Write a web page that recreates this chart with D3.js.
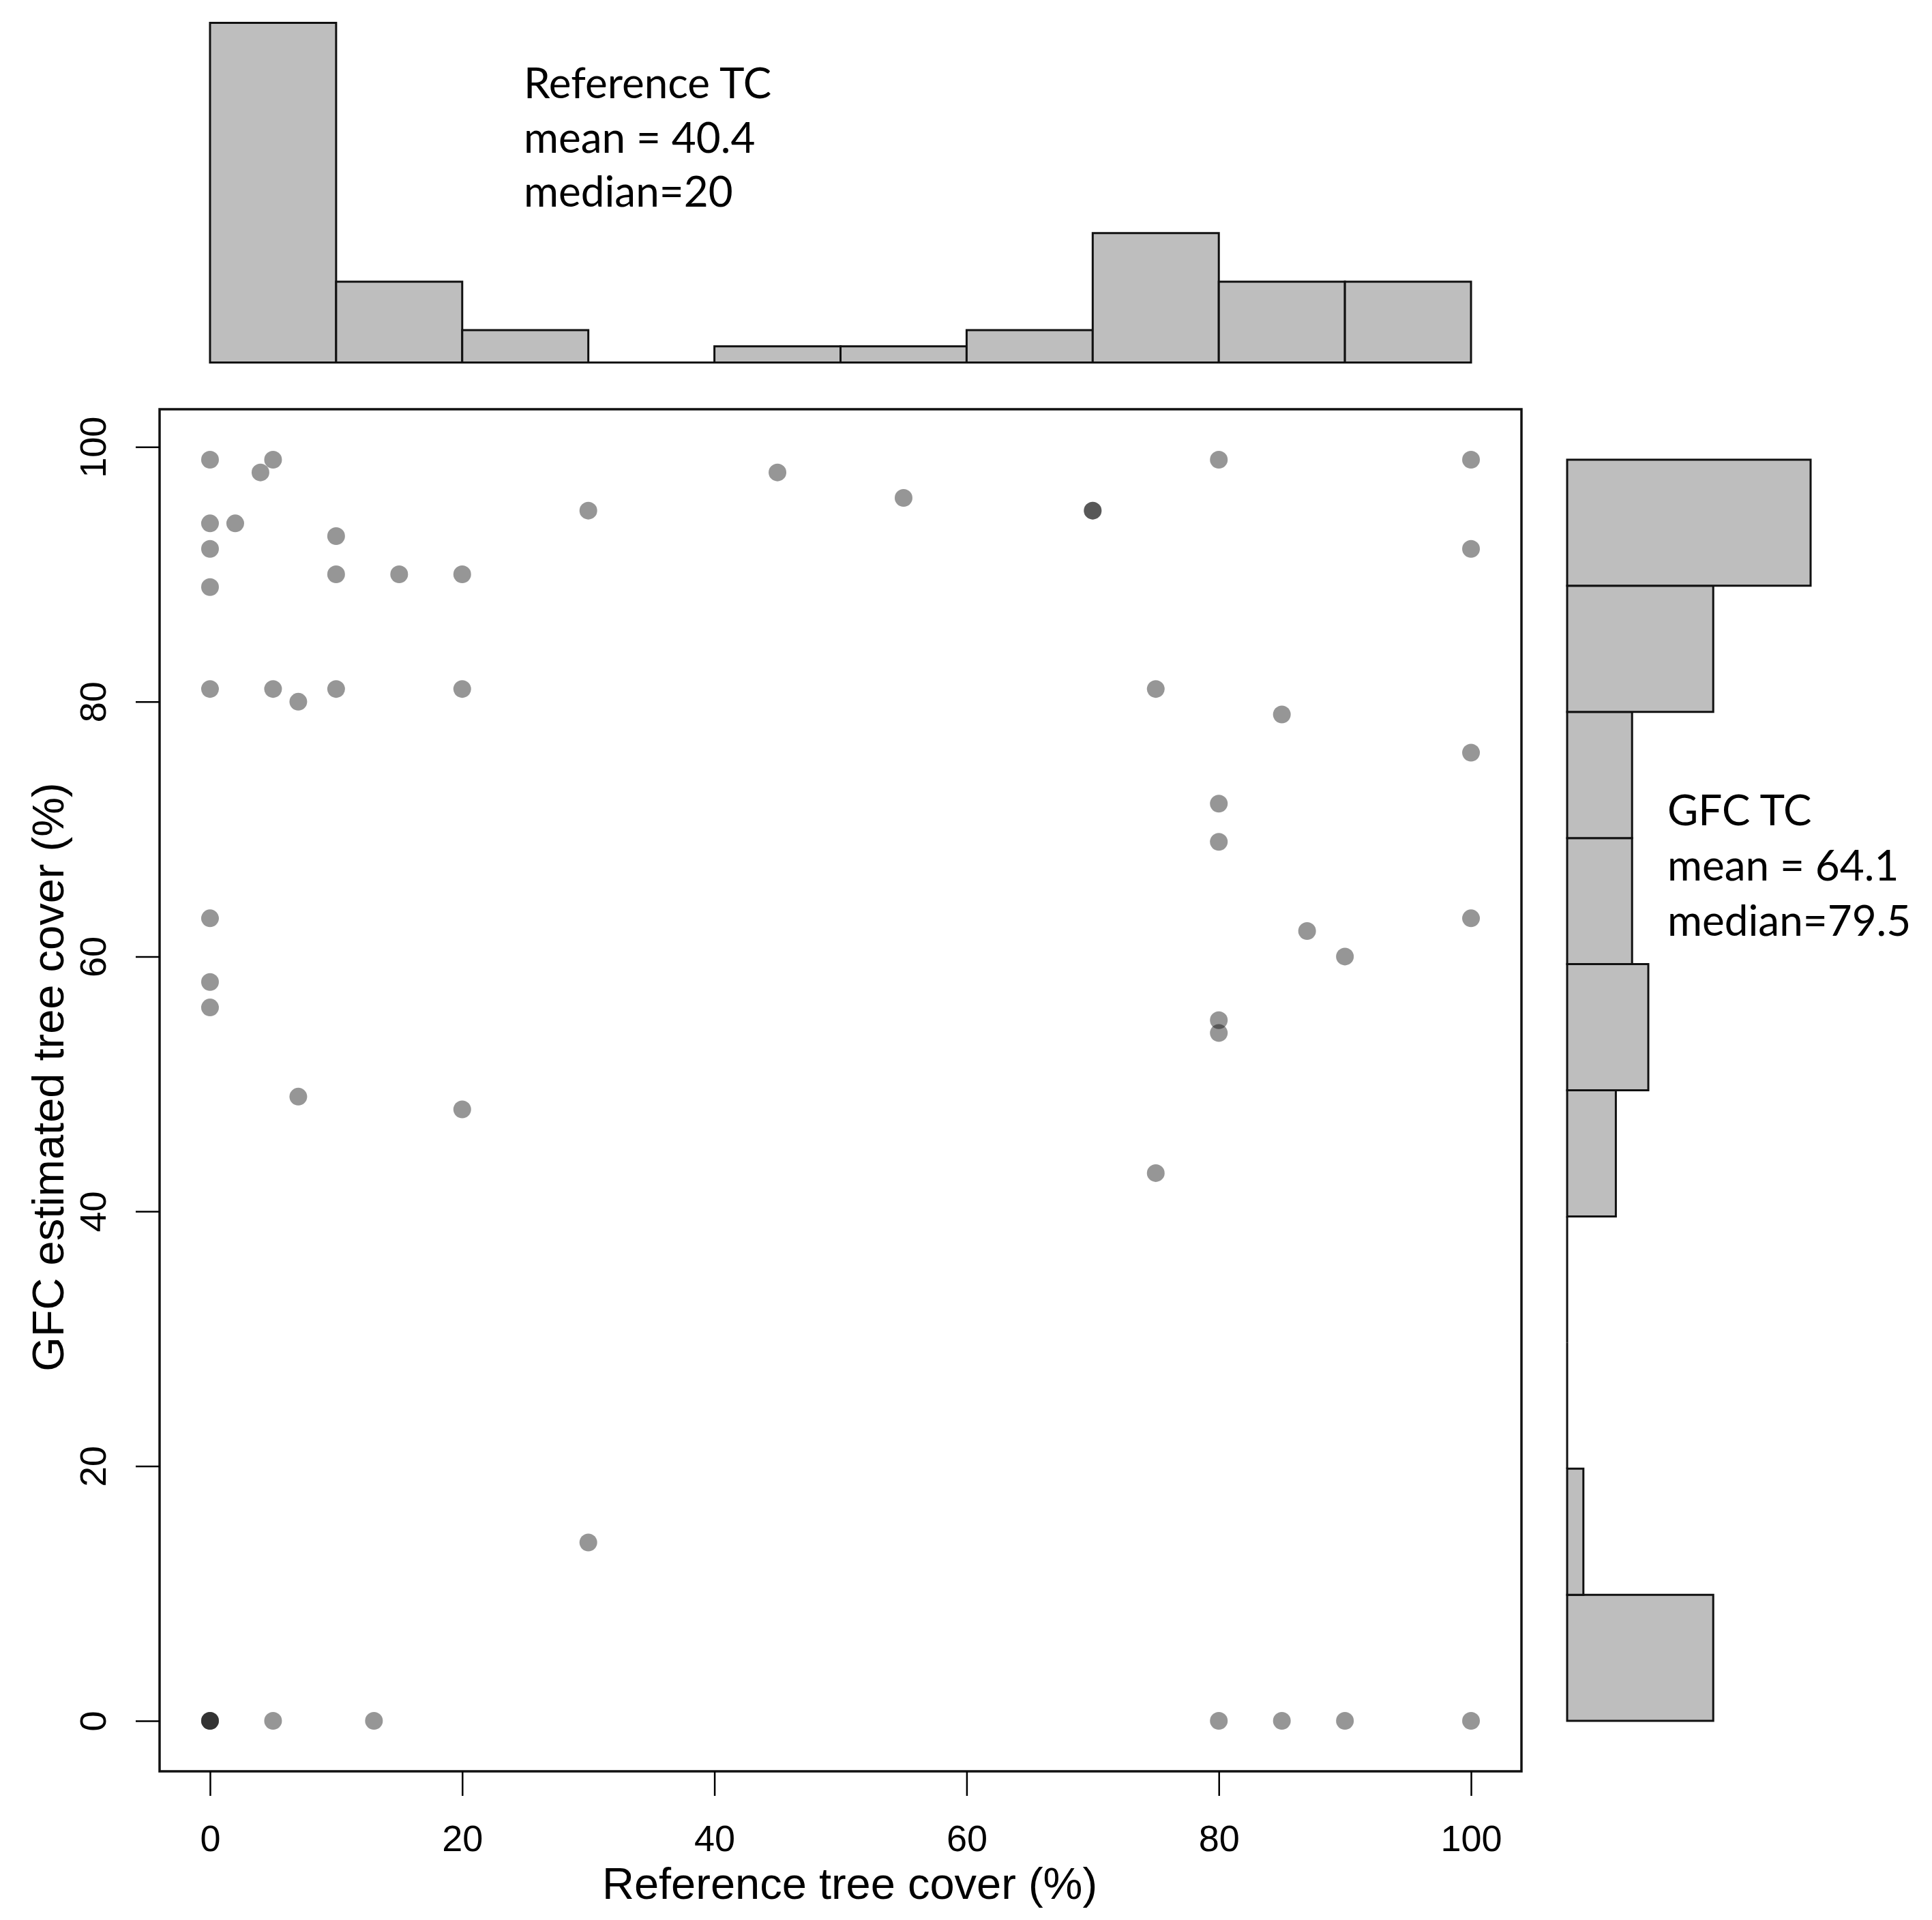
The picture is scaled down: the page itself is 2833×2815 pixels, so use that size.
<!DOCTYPE html>
<html lang="en">
<head>
<meta charset="utf-8">
<title>Reference vs GFC tree cover</title>
<script src="https://d3js.org/d3.v7.min.js"></script>
<style>
    body { margin: 0; background: #fff; }
    .axis text { font-family: "Liberation Sans", Arial, sans-serif; font-size: 54px; fill: #000; }
    .axis line { stroke: #000; stroke-width: 2.5; }
    .title { font-family: "Liberation Sans", Arial, sans-serif; font-size: 65px; }
    .note { font-family: Lato, sans-serif; font-size: 62px; }
    .bar { fill: #bebebe; stroke: #111; stroke-width: 3; }
</style>
</head>
<body>
<script>
// one pair per sample point: reference tree cover (x) and GFC estimate (y)
var refTC = [0, 0, 0, 0, 0, 0, 0, 0, 0, 0, 0,
    2, 4, 5, 5, 5, 7, 7, 10, 10, 10, 13, 15, 20, 20, 20, 30, 30, 45, 55,
    70, 70, 75, 75, 80, 80, 80, 80, 80, 80, 85, 85, 87, 90, 90,
    100, 100, 100, 100, 100];
var gfcTC = [99, 94, 92, 89, 81, 63, 58, 56, 0, 0, 0,
    94, 98, 99, 81, 0, 80, 49, 93, 90, 81, 0, 90, 90, 81, 48, 95, 14, 98, 96,
    95, 95, 81, 43, 99, 72, 69, 55, 54, 0, 79, 0, 62, 60, 0,
    99, 92, 76, 63, 0];

// histogram bins and counts
var binEdges = [0, 10, 20, 30, 40, 50, 60, 70, 80, 90, 100];
var refCounts = [21, 5, 2, 0, 1, 1, 2, 8, 5, 5];
var gfcCounts = [9, 1, 0, 0, 3, 5, 4, 4, 9, 15];

var xTicks = [0, 20, 40, 60, 80, 100];
var yTicks = [0, 20, 40, 60, 80, 100];

var refNote = ["Reference TC", "mean = 40.4", "median=20"];
var gfcNote = ["GFC TC", "mean = 64.1", "median=79.5"];

var width = 2833, height = 2815;
var plot = { left: 234, right: 2231, top: 600, bottom: 2597 };

var svg = d3.select("body").append("svg")
    .attr("width", width)
    .attr("height", height);

svg.append("rect")
    .attr("width", width)
    .attr("height", height)
    .attr("fill", "#fff");

// scatter scales
var x = d3.scaleLinear().domain([-4, 104]).range([plot.left, plot.right]);
var y = d3.scaleLinear().domain([-3.96, 102.96]).range([plot.bottom, plot.top]);

// marginal histogram scales
var topY = d3.scaleLinear().domain([0, 21]).range([531.5, 33.5]);
var sideY = d3.scaleLinear().domain([-4, 104]).range([plot.bottom, plot.top]);
var sideX = d3.scaleLinear().domain([0, 15]).range([2298, 2655]);

function box(x0, y0, x1, y1) {
    var p = d3.path();
    p.moveTo(x0, y0);
    p.lineTo(x1, y0);
    p.lineTo(x1, y1);
    p.lineTo(x0, y1);
    p.closePath();
    return p.toString();
}

// top histogram (reference TC)
svg.append("g").selectAll("path")
    .data(refCounts)
    .enter()
    .append("path")
    .attr("class", "bar")
    .attr("stroke-width", function (d) { return d === 0 ? 1.5 : 3; })
    .attr("d", function (d, i) {
        return box(x(binEdges[i]), topY(0), x(binEdges[i + 1]), topY(d));
    });

// side histogram (GFC TC)
svg.append("g").selectAll("path")
    .data(gfcCounts)
    .enter()
    .append("path")
    .attr("class", "bar")
    .attr("stroke-width", function (d) { return d === 0 ? 1.5 : 3; })
    .attr("d", function (d, i) {
        return box(sideX(0), sideY(binEdges[i]), sideX(d), sideY(binEdges[i + 1]));
    });

// scatter points, semi transparent so overlaps get darker
svg.append("g").selectAll("circle")
    .data(refTC)
    .enter()
    .append("circle")
    .attr("cx", function (d) { return x(d); })
    .attr("cy", function (d, i) { return y(gfcTC[i]); })
    .attr("r", 13)
    .attr("fill", "#000")
    .attr("fill-opacity", 0.41);

// frame
svg.append("rect")
    .attr("x", plot.left)
    .attr("y", plot.top)
    .attr("width", plot.right - plot.left)
    .attr("height", plot.bottom - plot.top)
    .attr("fill", "none")
    .attr("stroke", "#111")
    .attr("stroke-width", 3.5);

// x axis
var xAxis = svg.append("g")
    .attr("class", "axis")
    .attr("transform", "translate(0," + plot.bottom + ")")
    .call(d3.axisBottom(x).tickValues(xTicks).tickSize(36).tickPadding(43));
xAxis.select(".domain").remove();

// y axis, labels turned like in base R
var yAxis = svg.append("g")
    .attr("class", "axis")
    .attr("transform", "translate(" + plot.left + ",0)")
    .call(d3.axisLeft(y).tickValues(yTicks).tickSize(35));
yAxis.select(".domain").remove();
yAxis.selectAll(".tick text")
    .attr("transform", "rotate(-90)")
    .attr("x", 0)
    .attr("y", -79)
    .attr("dy", null)
    .style("text-anchor", "middle");

// axis titles
svg.append("text")
    .attr("class", "title")
    .attr("x", 1246)
    .attr("y", 2784)
    .style("text-anchor", "middle")
    .text("Reference tree cover (%)");

svg.append("text")
    .attr("class", "title")
    .attr("transform", "translate(93,1579) rotate(-90)")
    .style("text-anchor", "middle")
    .text("GFC estimated tree cover (%)");

// summary notes
svg.append("g").selectAll("text")
    .data(refNote)
    .enter()
    .append("text")
    .attr("class", "note")
    .attr("x", 768)
    .attr("y", function (d, i) { return 144 + i * 79.5; })
    .text(function (d) { return d; });

svg.append("g").selectAll("text")
    .data(gfcNote)
    .enter()
    .append("text")
    .attr("class", "note")
    .attr("x", 2445)
    .attr("y", function (d, i) { return 1210 + i * 81; })
    .text(function (d) { return d; });
</script>
</body>
</html>
